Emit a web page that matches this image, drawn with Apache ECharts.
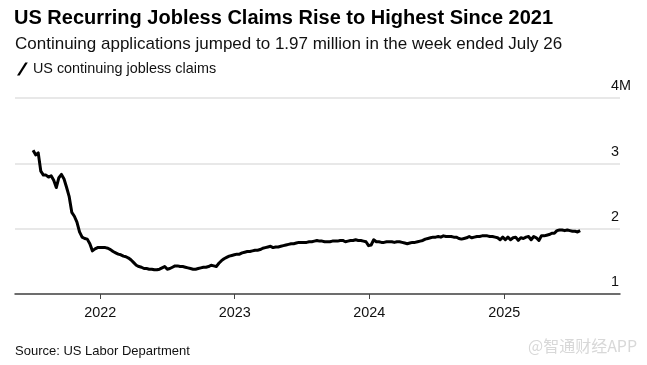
<!DOCTYPE html>
<html>
<head>
<meta charset="utf-8">
<script src="https://cdn.jsdelivr.net/npm/echarts@6/dist/echarts.min.js"></script>
<style>html,body{margin:0;padding:0;background:#fff;}#c{width:647px;height:365px;}</style>
</head>
<body>
<div id="c"></div>
<script>
// Weekly data, week ending Saturday; first week ended 2021-07-03
var firstWeek = '2021-07-03';
var claims = [
 3.20,3.13,3.16,2.88,2.82,2.82,2.79,2.81,2.74,2.63,2.78,2.83,2.76,2.63,2.49,2.25,2.19,2.10,1.95,1.87,1.85,1.84,1.77,1.66,1.69,1.71,1.71,
 1.71,1.71,1.70,1.68,1.65,1.63,1.61,1.60,1.58,1.57,1.55,1.52,1.48,1.44,1.42,1.41,1.39,1.39,1.38,1.38,1.37,1.37,1.38,1.40,1.42,1.38,
 1.39,1.41,1.43,1.43,1.42,1.42,1.41,1.40,1.39,1.38,1.38,1.39,1.40,1.41,1.41,1.42,1.44,1.43,1.42,1.47,1.51,1.54,1.56,1.58,1.59,1.60,
 1.61,1.61,1.63,1.64,1.65,1.65,1.66,1.67,1.67,1.68,1.70,1.71,1.72,1.73,1.71,1.72,1.72,1.73,1.74,1.75,1.76,1.77,1.77,1.78,1.79,1.79,
 1.79,1.79,1.80,1.80,1.81,1.82,1.81,1.81,1.80,1.80,1.80,1.81,1.81,1.81,1.82,1.82,1.80,1.81,1.82,1.82,1.83,1.82,1.82,1.81,1.80,1.74,
 1.75,1.83,1.80,1.80,1.79,1.79,1.80,1.80,1.80,1.79,1.80,1.80,1.79,1.78,1.77,1.78,1.79,1.79,1.80,1.81,1.82,1.84,1.85,1.86,1.87,1.87,
 1.88,1.87,1.89,1.88,1.88,1.88,1.87,1.87,1.85,1.84,1.85,1.86,1.88,1.86,1.87,1.88,1.88,1.89,1.89,1.89,1.88,1.88,1.87,1.86,1.83,1.87,
 1.83,1.87,1.83,1.86,1.87,1.82,1.86,1.85,1.87,1.88,1.83,1.88,1.86,1.82,1.89,1.89,1.90,1.91,1.93,1.93,1.97,1.98,1.98,1.97,1.98,1.97,
 1.96,1.96,1.95,1.97
];
var yTicks = [1, 2, 3, 4];
var yearLabels = ['2022', '2023', '2024', '2025'];

var DAY = 86400000;
var t0 = Date.parse(firstWeek + 'T00:00:00Z');
var seriesData = claims.map(function (v, i) { return [t0 + i * 7 * DAY, v]; });

var chart = echarts.init(document.getElementById('c'), null, {renderer: 'canvas'});
var FF = '"Liberation Sans", Arial, sans-serif';
var FS = 14.4;
chart.setOption({
  animation: false,
  backgroundColor: '#fff',
  textStyle: {fontFamily: FF},
  title: [
    {text: 'US Recurring Jobless Claims Rise to Highest Since 2021', left: 9, top: 3,
     textStyle: {fontSize: 20, fontWeight: 'bold', color: '#000', fontFamily: FF}},
    {text: 'Continuing applications jumped to 1.97 million in the week ended July 26', left: 10, top: 31,
     textStyle: {fontSize: 17, fontWeight: 'normal', color: '#111', fontFamily: FF}},
    {text: 'Source: US Labor Department', left: 10, top: 340,
     textStyle: {fontSize: 13, fontWeight: 'normal', color: '#111', fontFamily: FF}},
    {text: '@智通财经APP', left: 523, top: 333,
     textStyle: {fontSize: 16, fontWeight: 'normal', color: '#d8d8d8', fontFamily: '"Noto Sans CJK SC", sans-serif'}}
  ],
  legend: {
    left: 12, top: 57, itemWidth: 11, itemHeight: 13, itemGap: 6, padding: 5,
    icon: 'path://M0,12 L2.4,12 L10,0 L7.6,0 Z',
    textStyle: {fontSize: FS, color: '#111', fontFamily: FF},
    data: [{name: 'US continuing jobless claims', itemStyle: {color: '#000'}}]
  },
  grid: {left: 15, right: 27, top: 98, bottom: 71, containLabel: false},
  xAxis: {
    type: 'time',
    min: Date.parse('2021-05-15T00:00:00Z'),
    max: Date.parse('2025-11-11T00:00:00Z'),
    minInterval: 365 * DAY, maxInterval: 366 * DAY,
    axisLine: {show: true, lineStyle: {color: '#444', width: 1.5}},
    axisTick: {show: true, length: 5, lineStyle: {color: '#444', width: 1}},
    minorTick: {show: false},
    splitLine: {show: false},
    axisLabel: {
      margin: 12, fontSize: FS, color: '#111', fontFamily: FF,
      showMinLabel: false, showMaxLabel: false,
      formatter: function (v) {
        var y = String(new Date(v).getUTCFullYear());
        return yearLabels.indexOf(y) >= 0 ? y : '';
      }
    }
  },
  yAxis: {
    type: 'value', position: 'right', min: 1, max: 4, interval: 1,
    axisLine: {show: false}, axisTick: {show: false},
    splitLine: {lineStyle: {color: '#e0e0e0', width: 1.5}},
    axisLabel: {
      inside: true, margin: 9, align: 'left', verticalAlign: 'bottom',
      fontSize: FS, color: '#111', fontFamily: FF,
      formatter: function (v) {
        if (yTicks.indexOf(v) < 0) return '';
        if (v === 4) return '{norm|4M}';
        return '{norm|' + v + '}';
      },
      rich: {
        norm: {fontSize: FS, color: '#111', padding: [0, 0, 4.5, 0], fontFamily: FF}
      }
    }
  },
  series: [{
    name: 'US continuing jobless claims',
    type: 'line', data: seriesData, showSymbol: false, symbol: 'none',
    lineStyle: {color: '#000', width: 3, join: 'round'},
    itemStyle: {color: '#000'}
  }]
});
</script>
</body>
</html>
